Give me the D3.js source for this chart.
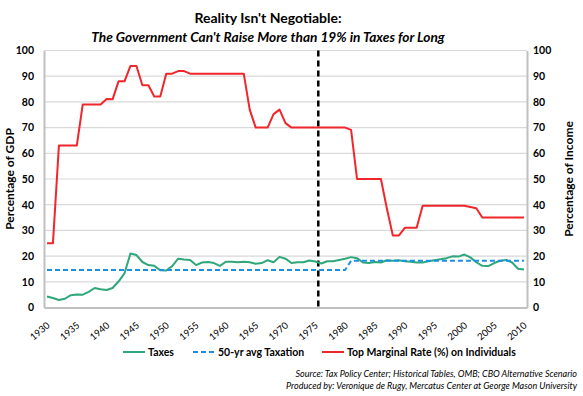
<!DOCTYPE html>
<html>
<head>
<meta charset="utf-8">
<script src="https://cdn.jsdelivr.net/npm/d3@7"></script>
<style>
  body { margin: 0; background: #fff; }
  text { font-family: Lato, "Open Sans", sans-serif; }
</style>
</head>
<body>
<div id="chart"></div>
<script>
// categories
const years = [1930, 1931, 1932, 1933, 1934, 1935, 1936, 1937, 1938, 1939,
  1940, 1941, 1942, 1943, 1944, 1945, 1946, 1947, 1948, 1949,
  1950, 1951, 1952, 1953, 1954, 1955, 1956, 1957, 1958, 1959,
  1960, 1961, 1962, 1963, 1964, 1965, 1966, 1967, 1968, 1969,
  1970, 1971, 1972, 1973, 1974, 1975, 1976, 1977, 1978, 1979,
  1980, 1981, 1982, 1983, 1984, 1985, 1986, 1987, 1988, 1989,
  1990, 1991, 1992, 1993, 1994, 1995, 1996, 1997, 1998, 1999,
  2000, 2001, 2002, 2003, 2004, 2005, 2006, 2007, 2008, 2009, 2010]

// federal revenue, % of GDP
const taxes = [4.3, 3.7, 2.9, 3.4, 4.8, 5.1, 5.0, 6.1, 7.6, 7.1,
  6.8, 7.6, 10.1, 13.3, 21.0, 20.4, 17.7, 16.5, 16.2, 14.5,
  14.4, 16.1, 19.0, 18.7, 18.5, 16.5, 17.5, 17.7, 17.3, 16.2,
  17.8, 17.8, 17.6, 17.8, 17.6, 17.0, 17.3, 18.4, 17.6, 19.7,
  19.0, 17.3, 17.6, 17.6, 18.3, 17.9, 17.1, 18.0, 18.0, 18.5,
  19.0, 19.6, 19.2, 17.5, 17.3, 17.7, 17.5, 18.4, 18.2, 18.4,
  18.0, 17.8, 17.5, 17.5, 18.0, 18.4, 18.8, 19.2, 19.9, 19.8,
  20.6, 19.5, 17.6, 16.2, 16.1, 17.3, 18.2, 18.5, 17.5, 15.1, 14.8]

// 50-year average taxation
const avgTax = [14.6, 14.6, 14.6, 14.6, 14.6, 14.6, 14.6, 14.6, 14.6, 14.6,
  14.6, 14.6, 14.6, 14.6, 14.6, 14.6, 14.6, 14.6, 14.6, 14.6,
  14.6, 14.6, 14.6, 14.6, 14.6, 14.6, 14.6, 14.6, 14.6, 14.6,
  14.6, 14.6, 14.6, 14.6, 14.6, 14.6, 14.6, 14.6, 14.6, 14.6,
  14.6, 14.6, 14.6, 14.6, 14.6, 14.6, 14.6, 14.6, 14.6, 14.6,
  14.6, 18.2, 18.2, 18.2, 18.2, 18.2, 18.2, 18.2, 18.2, 18.2,
  18.2, 18.2, 18.2, 18.2, 18.2, 18.2, 18.2, 18.2, 18.2, 18.2,
  18.2, 18.2, 18.2, 18.2, 18.2, 18.2, 18.2, 18.2, 18.2, 18.2, 18.2]

// top marginal rate on individuals, % of income
const topRate = [25, 25, 63, 63, 63, 63, 79, 79, 79, 79,
  81.1, 81, 88, 88, 94, 94, 86.45, 86.45, 82.13, 82.13,
  91, 91, 92, 92, 91, 91, 91, 91, 91, 91,
  91, 91, 91, 91, 77, 70, 70, 70, 75.25, 77,
  71.75, 70, 70, 70, 70, 70, 70, 70, 70, 70,
  70, 69.13, 50, 50, 50, 50, 50, 38.5, 28, 28,
  31, 31, 31, 39.6, 39.6, 39.6, 39.6, 39.6, 39.6, 39.6,
  39.6, 39.1, 38.6, 35, 35, 35, 35, 35, 35, 35, 35]

const yTicks = [0, 10, 20, 30, 40, 50, 60, 70, 80, 90, 100]
const xTicks = [1930, 1935, 1940, 1945, 1950, 1955, 1960, 1965, 1970, 1975,
  1980, 1985, 1990, 1995, 2000, 2005, 2010]
const dividerAfter = 1975

const width = 583, height = 396
const margin = { top: 50.5, right: 56, bottom: 88.5, left: 44 }

const svg = d3.select("#chart")
  .append("svg")
  .attr("width", width)
  .attr("height", height)

let x = d3.scalePoint()
  .domain(years)
  .range([margin.left, width - margin.right])
  .padding(0.5)

let y = d3.scaleLinear()
  .domain([0, 100])
  .range([height - margin.bottom, margin.top])

// grid
svg.append("g")
  .selectAll("line")
  .data(yTicks.filter(d => d > 0))
  .join("line")
  .attr("x1", margin.left)
  .attr("x2", width - margin.right)
  .attr("y1", d => y(d))
  .attr("y2", d => y(d))
  .attr("stroke", "#d9d9d9")
  .attr("stroke-width", 1.2)

// axis frame (left, right, bottom)
svg.append("g")
  .attr("transform", `translate(${margin.left},0)`)
  .call(d3.axisLeft(y).tickValues(yTicks).tickSize(0).tickPadding(10))
  .call(g => g.select(".domain").attr("stroke", "#c0c0c0").attr("stroke-width", 2))
  .call(g => g.selectAll("text").attr("font-size", "10.5px").attr("font-weight", "bold").attr("fill", "#000"))

svg.append("g")
  .attr("transform", `translate(${width - margin.right},0)`)
  .call(d3.axisRight(y).tickValues(yTicks).tickSize(0).tickPadding(6))
  .call(g => g.select(".domain").attr("stroke", "#c0c0c0").attr("stroke-width", 2))
  .call(g => g.selectAll("text").attr("font-size", "10.5px").attr("font-weight", "bold").attr("fill", "#000"))

svg.append("g")
  .attr("transform", `translate(0,${y(0)})`)
  .call(d3.axisBottom(x).tickValues(xTicks).tickSize(0).tickFormat(d => d))
  .call(g => g.select(".domain").attr("stroke", "#c0c0c0").attr("stroke-width", 2))
  .call(g => g.selectAll("text")
    .attr("font-size", "9.5px")
    .attr("fill", "#000")
    .attr("text-anchor", "end")
    .attr("dy", null)
    .attr("y", null)
    .attr("transform", "translate(3,19) rotate(-40)"))

// divider
let step = x.step()
svg.append("line")
  .attr("x1", x(dividerAfter) + step / 2)
  .attr("x2", x(dividerAfter) + step / 2)
  .attr("y1", y(100))
  .attr("y2", y(0))
  .attr("stroke", "#000")
  .attr("stroke-width", 2.5)
  .attr("stroke-dasharray", "6,4")

const line = d3.line()
  .x((d, i) => x(years[i]))
  .y(d => y(d))

svg.append("path")
  .datum(taxes)
  .attr("d", line)
  .attr("fill", "none")
  .attr("stroke", "#2ea77a")
  .attr("stroke-width", 2)
  .attr("stroke-linejoin", "round")

svg.append("path")
  .datum(avgTax)
  .attr("d", line)
  .attr("fill", "none")
  .attr("stroke", "#1a8fe3")
  .attr("stroke-width", 2)
  .attr("stroke-dasharray", "5,3")

svg.append("path")
  .datum(topRate)
  .attr("d", line)
  .attr("fill", "none")
  .attr("stroke", "#f0262a")
  .attr("stroke-width", 2)
  .attr("stroke-linejoin", "round")

// titles
svg.append("text")
  .attr("x", 268)
  .attr("y", 23)
  .attr("text-anchor", "middle")
  .attr("font-size", "14px")
  .attr("font-weight", "bold")
  .text("Reality Isn't Negotiable:")

svg.append("text")
  .attr("x", 268)
  .attr("y", 42)
  .attr("text-anchor", "middle")
  .attr("font-size", "13.7px")
  .attr("font-weight", "bold")
  .attr("font-style", "italic")
  .text("The Government Can't Raise More than 19% in Taxes for Long")

svg.append("text")
  .attr("transform", `translate(14,${y(50)}) rotate(-90)`)
  .attr("text-anchor", "middle")
  .attr("font-size", "12px")
  .attr("font-weight", "bold")
  .text("Percentage of GDP")

svg.append("text")
  .attr("transform", `translate(573,${y(50)}) rotate(-90)`)
  .attr("text-anchor", "middle")
  .attr("font-size", "12px")
  .attr("font-weight", "bold")
  .text("Percentage of Income")

// legend
const legendItems = [
  { label: "Taxes", color: "#2ea77a", dash: null, x: 123 },
  { label: "50-yr avg Taxation", color: "#1a8fe3", dash: "5,3", x: 193 },
  { label: "Top Marginal Rate (%) on Individuals", color: "#f0262a", dash: null, x: 322 }
]
const lg = svg.append("g")
lg.selectAll("line")
  .data(legendItems)
  .join("line")
  .attr("x1", d => d.x)
  .attr("x2", d => d.x + 22)
  .attr("y1", 352)
  .attr("y2", 352)
  .attr("stroke", d => d.color)
  .attr("stroke-width", 2)
  .attr("stroke-dasharray", d => d.dash)
lg.selectAll("text")
  .data(legendItems)
  .join("text")
  .attr("x", d => d.x + 25)
  .attr("y", 356)
  .attr("font-size", "10.5px")
  .attr("font-weight", "bold")
  .text(d => d.label)

// source
svg.append("text")
  .attr("x", 577)
  .attr("y", 377)
  .attr("text-anchor", "end")
  .attr("font-size", "9px")
  .attr("font-style", "italic")
  .text("Source: Tax Policy Center; Historical Tables, OMB; CBO Alternative Scenario")

svg.append("text")
  .attr("x", 577)
  .attr("y", 389)
  .attr("text-anchor", "end")
  .attr("font-size", "9px")
  .attr("font-style", "italic")
  .text("Produced by: Veronique de Rugy, Mercatus Center at George Mason University")
</script>
</body>
</html>
